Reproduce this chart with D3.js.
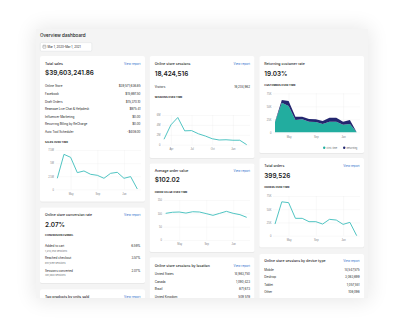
<!DOCTYPE html>
<html><head><meta charset="utf-8">
<script src="https://cdn.jsdelivr.net/npm/d3@7"></script>
<style>
html,body{margin:0;padding:0;background:#fff;overflow:hidden}
svg{display:block;font-family:Inter,"Noto Sans",sans-serif}
</style>
</head><body>
<svg id="c" width="399" height="329"></svg>
<script>
// ---------- data ----------
const months = ["Mar","Apr","May","Jun","Jul","Aug","Sep","Oct","Nov","Dec","Jan","Feb","Mar"];
const salesOverTime = [2.1,6.67,6.1,3.18,3.5,2.86,2.67,2.1,3.05,3.24,2.1,2.42,0.06];          // $M
const sessionsOverTime = [1.1,4.0,5.5,2.8,2.85,2.2,1.75,1.2,0.95,1.0,0.9,0.9,0.0];            // M
const orderValueOverTime = [100,104,105,101,106,105,99,92.5,100,107.5,100,95,85];              // $
const firstTimeCustomers = [19.5,57,50.6,23.7,25,20.5,19.9,16,20.5,20.5,14.7,16,0];           // K
const returningCustomers = [1,5,9.4,6.3,5,5.1,5.1,5.8,7.5,7.5,5.8,7.7,0];                     // K
const ordersOverTime = [22,64,62.4,32.8,32.8,26.5,26.5,22,30.9,29.6,21.4,25.2,0];             // K

const salesTicks = [0,2.5,5,7.5], salesTickLabels = ["0","2.5M","5M","7.5M"];
const sessionTicks = [0,2,4,6], sessionTickLabels = ["0","2M","4M","6M"];
const aovTicks = [0,50,100,150], aovTickLabels = ["0","50","100","150"];
const kTicks = [0,25,50,75], kTickLabels = ["0","25K","50K","75K"];
const xTicksA = [2,6,10];      // May, Sep, Jan
const xTicksB = [1,4,7,10];    // Apr, Jul, Oct, Jan

const salesChannels = ["Online Store","Facebook","Draft Orders","Reamaze Live Chat & Helpdesk","Influencer Marketing","Recurring Billing by ReCharge","Auto Tool Scheduler"];
const salesChannelValues = ["$39,571,636.85","$15,897.50","$15,370.10","$975.41","$0.00","$0.00","-$408.00"];
const funnelSteps = ["Added to cart","Reached checkout","Sessions converted"];
const funnelSessions = ["1,214,358 sessions","657,099 sessions","381,060 sessions"];
const funnelRates = ["6.59%","3.57%","2.07%"];
const locations = ["United States","Canada","Brazil","United Kingdom"];
const locationSessions = ["14,963,750","1,090,423","871,673","509,578"];
const devices = ["Mobile","Desktop","Tablet","Other"];
const deviceSessions = ["14,547,575","3,063,699","1,057,551","108,096"];
const legendLabels = ["First-time","Returning"];

// ---------- styles ----------
const INK = "#202223", SUB = "#6d7175", AX = "#7f8488", GRID = "#e9eaeb", BLUE = "#2c6ecb";
const TEAL = "#47c1bf", AREA1 = "#22ad9f", AREA2 = "#23266f";

const svg = d3.select("#c");
const defs = svg.append("defs");
const sh = defs.append("filter").attr("id","psh").attr("x","-30%").attr("y","-30%").attr("width","160%").attr("height","160%");
sh.append("feGaussianBlur").attr("stdDeviation",10);
const cs = defs.append("filter").attr("id","csh").attr("x","-10%").attr("y","-10%").attr("width","120%").attr("height","120%");
cs.append("feDropShadow").attr("dx",0).attr("dy",0.4).attr("stdDeviation",0.5).attr("flood-color","#000").attr("flood-opacity",0.12);
defs.append("clipPath").attr("id","clipP").append("rect").attr("x",0).attr("y",0).attr("width",399).attr("height",298);

// panel shadow
svg.append("rect").attr("x",34).attr("y",27).attr("width",336).attr("height",274).attr("rx",4)
  .attr("fill","#000").attr("opacity",0.09).attr("filter","url(#psh)");
const root = svg.append("g").attr("clip-path","url(#clipP)");
root.append("rect").attr("x",36).attr("y",29).attr("width",332).attr("height",280).attr("fill","#f4f4f4");

function txt(g,x,y,s,o={}){
  return g.append("text").attr("x",x).attr("y",y).text(s)
    .attr("font-size",o.size||3.2).attr("fill",o.fill||INK)
    .attr("font-weight",o.w||400).attr("text-anchor",o.anchor||"start")
    .attr("letter-spacing",o.ls||null);
}

// header
txt(root,40,36.6,"Overview dashboard",{size:4.6,w:500});
root.append("rect").attr("x",40.3).attr("y",42.6).attr("width",51.5).attr("height",8.6).attr("rx",1.2)
  .attr("fill","#fff").attr("stroke","#c9cccf").attr("stroke-width",0.3);
root.append("rect").attr("x",42.9).attr("y",45.2).attr("width",3).attr("height",3).attr("rx",0.4)
  .attr("fill","none").attr("stroke","#5c5f62").attr("stroke-width",0.35);
root.append("line").attr("x1",42.9).attr("x2",45.9).attr("y1",46.1).attr("y2",46.1).attr("stroke","#5c5f62").attr("stroke-width",0.3);
txt(root,47.6,47.9,"Mar 1, 2020–Mar 1, 2021",{size:2.9});

function card(x,y,w,h){
  const g = root.append("g");
  g.append("rect").attr("x",x).attr("y",y).attr("width",w).attr("height",h).attr("rx",1.8)
    .attr("fill","#fff").attr("filter","url(#csh)");
  return g;
}
function header(g,x,w,yT,title,link=true){
  txt(g,x+5,yT,title,{size:3.5,w:500});
  if(link) txt(g,x+w-4.5,yT,"View report",{size:3.0,fill:BLUE,anchor:"end"});
}

function chart(g,o){
  const x = d3.scaleLinear().domain([0,months.length-1]).range([o.x0,o.x1]);
  const y = d3.scaleLinear().domain([0,o.max]).range([o.yBot,o.yTop]);
  const ya = g.append("g").attr("transform",`translate(${o.gx0},0)`)
    .call(d3.axisLeft(y).tickValues(o.yTicks).tickFormat((d,i)=>o.yLabels[i]).tickSize(-(o.gx1-o.gx0)).tickPadding(1.6));
  ya.select(".domain").remove();
  ya.selectAll("line").attr("stroke",GRID).attr("stroke-width",0.3);
  ya.selectAll("text").attr("font-size",2.6).attr("fill",AX).attr("font-family",null);
  const xa = g.append("g").attr("transform",`translate(0,${o.yBot})`)
    .call(d3.axisBottom(x).tickValues(o.xTicks).tickFormat(i=>months[i]).tickSize(-(o.yBot-o.yTop)).tickPadding(3.6));
  xa.select(".domain").remove();
  xa.selectAll("line").attr("stroke",GRID).attr("stroke-width",0.3);
  xa.selectAll("text").attr("font-size",2.6).attr("fill",AX).attr("font-family",null);
  return {x,y};
}
function line(g,s,data){
  g.append("path").datum(data)
    .attr("d",d3.line().x((d,i)=>s.x(i)).y(d=>s.y(d)))
    .attr("fill","none").attr("stroke",TEAL).attr("stroke-width",0.95).attr("stroke-linejoin","round");
}

// ---------- column 1 ----------
let X=40, W=105, g;
g = card(X,56,W,145.5);
header(g,X,W,64.8,"Total sales");
txt(g,X+5,75.2,"$39,603,241.86",{size:6.4,w:600});
salesChannels.forEach((c,i)=>{
  const yy = 87.4 + i*7.58;
  txt(g,X+5,yy,c,{size:3.0});
  txt(g,X+W-4.5,yy,salesChannelValues[i],{size:3.0,anchor:"end"});
});
txt(g,X+5,143,"SALES OVER TIME",{size:2.5,w:700,ls:0.05});
{
  const s = chart(g,{x0:57.3,x1:137.3,gx0:55.5,gx1:141,yTop:150,yBot:189.3,max:7.5,
    yTicks:salesTicks,yLabels:salesTickLabels,xTicks:xTicksA});
  line(g,s,salesOverTime);
}

g = card(X,207.5,W,75.5);
header(g,X,W,216.4,"Online store conversion rate");
txt(g,X+5,226.8,"2.07%",{size:6.4,w:600});
txt(g,X+5,236.4,"CONVERSION FUNNEL",{size:2.5,w:700,ls:0.05});
funnelSteps.forEach((f,i)=>{
  const yy = 247.1 + i*12.3;
  txt(g,X+5,yy,f,{size:3.0});
  txt(g,X+5,yy+4.6,funnelSessions[i],{size:2.5,fill:SUB});
  txt(g,X+W-4.5,yy,funnelRates[i],{size:3.0,anchor:"end"});
});

g = card(X,289.3,W,40);
header(g,X,W,298.2,"Top products by units sold");

// ---------- column 2 ----------
X=149.7; W=104.8;
g = card(X,56,W,102);
header(g,X,W,64.8,"Online store sessions");
txt(g,X+5,75.6,"18,424,516",{size:6.4,w:600});
txt(g,X+5,87.9,"Visitors",{size:3.0});
txt(g,X+W-4.5,87.9,"16,204,962",{size:3.0,anchor:"end"});
txt(g,X+5,98.4,"SESSIONS OVER TIME",{size:2.5,w:700,ls:0.05});
{
  const s = chart(g,{x0:164,x1:246.7,gx0:162,gx1:250,yTop:115,yBot:144.7,max:6,
    yTicks:sessionTicks,yLabels:sessionTickLabels,xTicks:xTicksB});
  line(g,s,sessionsOverTime);
}

g = card(X,163.5,W,88.5);
header(g,X,W,172,"Average order value");
txt(g,X+5,182.4,"$102.02",{size:6.4,w:600});
txt(g,X+5,193.4,"ORDER VALUE OVER TIME",{size:2.5,w:700,ls:0.05});
{
  const s = chart(g,{x0:165.7,x1:246.7,gx0:163.6,gx1:250,yTop:200,yBot:240,max:150,
    yTicks:aovTicks,yLabels:aovTickLabels,xTicks:xTicksA});
  line(g,s,orderValueOverTime);
}

g = card(X,257.3,W,50);
header(g,X,W,266.5,"Online store sessions by location");
locations.forEach((c,i)=>{
  const yy = 275.2 + i*7.45;
  txt(g,X+5,yy,c,{size:3.0});
  txt(g,X+W-4.5,yy,locationSessions[i],{size:3.0,anchor:"end"});
});

// ---------- column 3 ----------
X=259.3; W=104.8;
g = card(X,56,W,97);
header(g,X,W,64.8,"Returning customer rate",false);
txt(g,X+5,75.6,"19.03%",{size:6.4,w:600});
txt(g,X+5,85.8,"CUSTOMERS OVER TIME",{size:2.5,w:700,ls:0.05});
{
  const s = chart(g,{x0:275,x1:356.7,gx0:273,gx1:360,yTop:93.3,yBot:132.3,max:75,
    yTicks:kTicks,yLabels:kTickLabels,xTicks:xTicksA});
  const rows = months.map((m,i)=>({i,first:firstTimeCustomers[i],ret:returningCustomers[i]}));
  const stack = d3.stack().keys(["first","ret"])(rows);
  const area = d3.area().x(d=>s.x(d.data.i)).y0(d=>s.y(d[0])).y1(d=>s.y(d[1]));
  g.selectAll("path.ar").data(stack).join("path").attr("class","ar")
    .attr("d",area).attr("fill",(d,k)=>k===0?AREA1:AREA2);
  const lg = [[324.2,AREA1],[344.2,AREA2]];
  lg.forEach((l,k)=>{
    g.append("circle").attr("cx",l[0]).attr("cy",147.7).attr("r",1.2).attr("fill",l[1]);
    txt(g,l[0]+2.2,148.6,legendLabels[k],{size:2.4,fill:SUB});
  });
}

g = card(X,158,W,89.3);
header(g,X,W,167.3,"Total orders");
txt(g,X+5,178.4,"399,526",{size:6.4,w:600});
txt(g,X+5,188.4,"ORDERS OVER TIME",{size:2.5,w:700,ls:0.05});
{
  const s = chart(g,{x0:275,x1:356.7,gx0:273,gx1:360,yTop:196,yBot:235.7,max:75,
    yTicks:kTicks,yLabels:kTickLabels,xTicks:xTicksA});
  line(g,s,ordersOverTime);
}

g = card(X,254,W,50);
header(g,X,W,262.3,"Online store sessions by device type");
devices.forEach((c,i)=>{
  const yy = 270.8 + i*7.55;
  txt(g,X+5,yy,c,{size:3.0});
  txt(g,X+W-4.5,yy,deviceSessions[i],{size:3.0,anchor:"end"});
});
</script>
</body></html>
